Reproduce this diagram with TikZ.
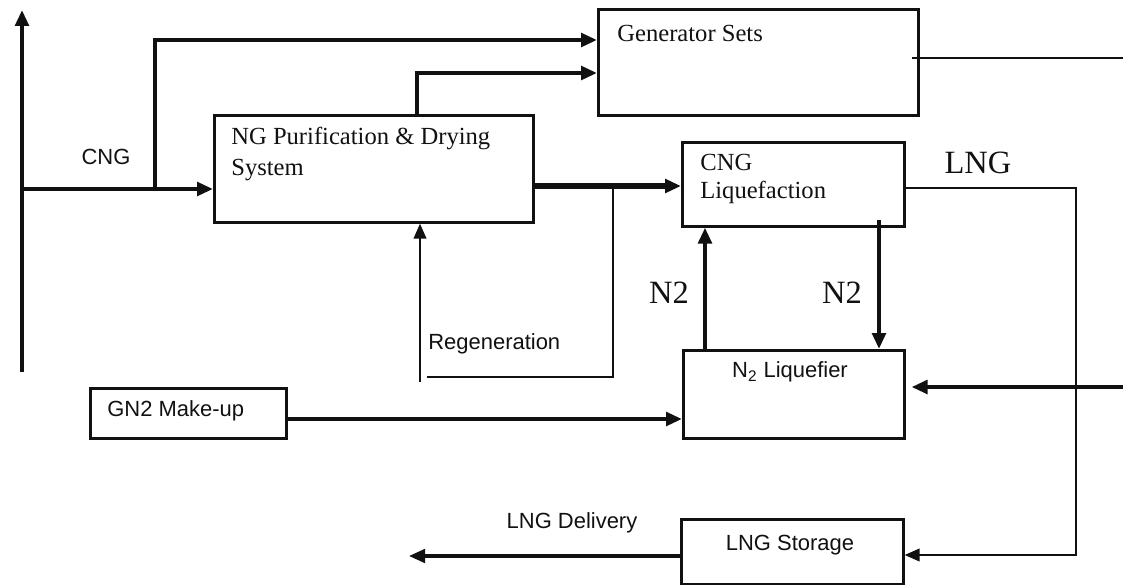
\documentclass[tikz,border=0pt]{standalone}
\usepackage{fontspec}
\setmainfont{Liberation Serif}
\setsansfont{Liberation Sans}
\usetikzlibrary{arrows.meta}
\definecolor{pipeblack}{HTML}{111111}

\newcommand{\unitfont}{\fontsize{14}{18}\selectfont}
\newcommand{\tagfont}{\sffamily\fontsize{12.5}{15}\selectfont}
\newcommand{\streamfont}{\fontsize{18.5}{22}\selectfont}

\begin{document}
\begin{tikzpicture}[x=0.02cm, y=-0.02cm,
    unit/.style={draw=pipeblack, line width=1.5pt, anchor=north west, inner sep=0pt},
    txt/.style={inner sep=0pt, text=pipeblack},
    flow/.style={draw=pipeblack, line width=2.3pt, -{Triangle[length=0.32cm,width=0.27cm]}},
    heavyflow/.style={flow, line width=3.6pt},
    pipe/.style={draw=pipeblack, line width=1.3pt},
    thinflow/.style={pipe, -{Triangle[length=0.3cm,width=0.25cm]}}]
  \useasboundingbox (0,0) rectangle (1123,585);

  % process units
  \node[unit, minimum width=6.4cm, minimum height=2.12cm] (gen) at (597,8) {};
  \node[unit, minimum width=6.38cm, minimum height=2.14cm] (ngp) at (213,114) {};
  \node[unit, minimum width=4.44cm, minimum height=1.68cm] (cngl) at (681,141) {};
  \node[unit, minimum width=4.42cm, minimum height=1.76cm] (n2l) at (682,349) {};
  \node[unit, minimum width=3.92cm, minimum height=1.0cm] (gn2) at (89,387) {};
  \node[unit, minimum width=4.44cm, minimum height=1.3cm] (lngs) at (680,518) {};

  % unit texts
  \node[txt, anchor=west, font=\unitfont] (gentext) at (617,33) {Generator Sets};
  \node[txt, anchor=west, align=left, font=\unitfont] (ngptext) at (231,154) {NG Purification \& Drying\\System};
  \node[txt, anchor=west, align=left, font=\fontsize{14}{16}\selectfont] (cngltext) at (700,179) {CNG\\Liquefaction};
  \node[txt, font=\tagfont] (n2ltext) at (790,372) {N\textsubscript{2} Liquefier};
  \node[txt, anchor=west, font=\tagfont] (gn2text) at (107,411) {GN2 Make-up};
  \node[txt, font=\tagfont] (lngstext) at (790,545) {LNG Storage};

  % stream labels
  \node[txt, font=\tagfont] (cnglabel) at (106,157) {CNG};
  \node[txt, anchor=west, font=\tagfont] (reglabel) at (428,344) {Regeneration};
  \node[txt, font=\tagfont] (dellabel) at (572,523) {LNG Delivery};
  \node[txt, font=\streamfont] (lnglabel) at (978,163) {LNG};
  \node[txt, font=\streamfont] (n2uplabel) at (669,293) {N2};
  \node[txt, font=\streamfont] (n2dnlabel) at (842,293) {N2};

  % free ends
  \coordinate (source) at (22,372);
  \coordinate (sourcetop) at (22,10);
  \coordinate (split) at (22,189);
  \coordinate (cngtap) at (155,189);
  \coordinate (regtap) at (613,186);
  \coordinate (regend) at (427,377);
  \coordinate (regstart) at (420,382);
  \coordinate (genout) at (1123,58);
  \coordinate (lngturn) at (1076,555);
  \coordinate (n2feed) at (1123,387);
  \coordinate (delivery) at (409,556);

  % CNG feed
  \draw[flow] (source) -- (sourcetop);
  \draw[flow] (split) -- (split -| ngp.west);
  \draw[flow] (cngtap) |- (gen.west |- 0,40);
  \draw[flow] (ngp.north -| 417,0) |- (gen.west |- 0,73);
  \draw[heavyflow] (ngp.east |- regtap) -- (cngl.west |- regtap);

  % regeneration loop
  \draw[pipe] (regtap) |- (regend);
  \draw[thinflow] (regstart) -- (ngp.south -| regstart);

  % nitrogen loop
  \draw[flow] (n2l.north -| 705,0) -- (cngl.south -| 705,0);
  \draw[flow] ([yshift=0.16cm]cngl.south -| 879,0) -- (n2l.north -| 879,0);
  \draw[flow, shorten >=0.12cm] (n2feed) -- (n2l.east |- n2feed);
  \draw[flow] (gn2.east |- 0,419) -- (n2l.west |- 0,419);

  % LNG product
  \draw[pipe, shorten <=-0.16cm] (gen.east |- genout) -- (genout);
  \draw[thinflow] (cngl.east |- 0,188) -| (lngturn) -- (lngs.east |- lngturn);
  \draw[flow, line width=1.8pt] (lngs.west |- delivery) -- (delivery);
\end{tikzpicture}
\end{document}
